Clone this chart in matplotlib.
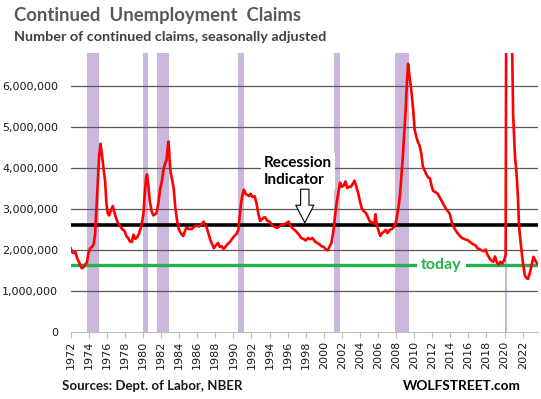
import matplotlib
matplotlib.use("Agg")
from matplotlib import pyplot as plt
from matplotlib.ticker import FuncFormatter

# continued claims (fractional year, millions)
years = [
    1972.0, 1972.15, 1972.35, 1972.5, 1972.7, 1972.9, 1973.1, 1973.25, 1973.45, 1973.65,
    1973.8, 1973.95, 1974.15, 1974.35, 1974.55, 1974.7, 1974.85, 1975.0, 1975.15, 1975.3,
    1975.45, 1975.6, 1975.8, 1975.95, 1976.1, 1976.25, 1976.45, 1976.65, 1976.8, 1977.0,
    1977.25, 1977.5, 1977.75, 1977.95, 1978.15, 1978.35, 1978.55, 1978.75, 1978.95, 1979.15,
    1979.35, 1979.55, 1979.75, 1979.9, 1980.05, 1980.2, 1980.35, 1980.45, 1980.6, 1980.75,
    1980.95, 1981.15, 1981.35, 1981.5, 1981.7, 1981.9, 1982.1, 1982.25, 1982.45, 1982.6,
    1982.75, 1982.82, 1982.95, 1983.05, 1983.2, 1983.4, 1983.55, 1983.75, 1983.95, 1984.1,
    1984.3, 1984.45, 1984.65, 1984.8, 1985.1, 1985.4, 1985.7, 1985.95, 1986.2, 1986.45,
    1986.7, 1986.9, 1987.05, 1987.25, 1987.45, 1987.65, 1987.85, 1988.05, 1988.3, 1988.5,
    1988.7, 1988.9, 1989.1, 1989.35, 1989.6, 1989.85, 1990.1, 1990.35, 1990.55, 1990.7,
    1990.85, 1991.0, 1991.15, 1991.35, 1991.55, 1991.75, 1991.9, 1992.1, 1992.35, 1992.55,
    1992.75, 1992.95, 1993.15, 1993.35, 1993.55, 1993.75, 1994.0, 1994.25, 1994.5, 1994.8,
    1995.1, 1995.35, 1995.6, 1995.85, 1996.1, 1996.3, 1996.5, 1996.75, 1997.0, 1997.25,
    1997.5, 1997.75, 1998.0, 1998.25, 1998.5, 1998.75, 1999.0, 1999.25, 1999.5, 1999.75,
    2000.0, 2000.25, 2000.45, 2000.65, 2000.85, 2001.05, 2001.25, 2001.45, 2001.65, 2001.8,
    2002.0, 2002.2, 2002.4, 2002.6, 2002.8, 2003.0, 2003.2, 2003.4, 2003.6, 2003.8,
    2004.0, 2004.2, 2004.45, 2004.7, 2004.9, 2005.1, 2005.35, 2005.6, 2005.72, 2005.85,
    2006.05, 2006.25, 2006.45, 2006.65, 2006.85, 2007.05, 2007.3, 2007.55, 2007.8, 2008.0,
    2008.15, 2008.3, 2008.45, 2008.6, 2008.75, 2008.9, 2009.05, 2009.2, 2009.33, 2009.45,
    2009.6, 2009.75, 2009.9, 2010.05, 2010.2, 2010.4, 2010.6, 2010.8, 2010.95, 2011.15,
    2011.35, 2011.55, 2011.75, 2011.95, 2012.1, 2012.35, 2012.6, 2012.85, 2013.05, 2013.3,
    2013.5, 2013.75, 2013.95, 2014.15, 2014.35, 2014.55, 2014.8, 2015.05, 2015.3, 2015.6,
    2015.9, 2016.2, 2016.5, 2016.8, 2017.0, 2017.2, 2017.45, 2017.7, 2017.9, 2018.1,
    2018.35, 2018.55, 2018.75, 2018.95, 2019.15, 2019.35, 2019.55, 2019.75, 2019.95, 2020.12,
    2020.28, 2020.38, 2020.55, 2020.7, 2020.95, 2021.15, 2021.35, 2021.5, 2021.6, 2021.8,
    2022.0, 2022.25, 2022.45, 2022.6, 2022.8, 2022.95, 2023.2, 2023.4, 2023.6,
]
claims_m = [
    2.05, 1.95, 1.93, 1.97, 1.82, 1.72, 1.62, 1.56, 1.60, 1.67,
    1.70, 1.92, 2.05, 2.08, 2.15, 2.40, 3.05, 3.70, 4.30, 4.60,
    4.35, 4.05, 3.70, 3.15, 2.90, 2.85, 2.98, 3.08, 2.95, 2.80,
    2.65, 2.58, 2.50, 2.48, 2.35, 2.30, 2.22, 2.20, 2.38, 2.28,
    2.32, 2.40, 2.55, 2.70, 2.90, 3.40, 3.80, 3.85, 3.55, 3.20,
    2.95, 2.85, 2.88, 2.92, 3.15, 3.50, 3.70, 3.95, 4.12, 4.20,
    4.55, 4.65, 4.20, 3.90, 3.75, 3.50, 3.10, 2.75, 2.52, 2.45,
    2.38, 2.35, 2.48, 2.55, 2.52, 2.52, 2.58, 2.60, 2.58, 2.62,
    2.70, 2.62, 2.55, 2.40, 2.25, 2.15, 2.05, 2.12, 2.18, 2.08,
    2.10, 2.03, 2.08, 2.15, 2.20, 2.28, 2.35, 2.40, 2.50, 2.85,
    3.15, 3.35, 3.48, 3.38, 3.35, 3.32, 3.38, 3.30, 3.32, 3.15,
    2.90, 2.72, 2.75, 2.80, 2.80, 2.72, 2.70, 2.62, 2.58, 2.55,
    2.58, 2.63, 2.62, 2.66, 2.70, 2.60, 2.55, 2.50, 2.45, 2.38,
    2.30, 2.28, 2.24, 2.30, 2.27, 2.30, 2.22, 2.18, 2.15, 2.10,
    2.08, 2.02, 2.00, 2.10, 2.18, 2.45, 2.85, 3.20, 3.45, 3.65,
    3.55, 3.58, 3.68, 3.52, 3.55, 3.55, 3.62, 3.70, 3.55, 3.40,
    3.20, 3.02, 2.95, 2.90, 2.80, 2.70, 2.68, 2.65, 2.88, 2.65,
    2.48, 2.35, 2.42, 2.45, 2.50, 2.42, 2.50, 2.52, 2.58, 2.70,
    2.90, 3.10, 3.40, 3.85, 4.30, 4.85, 5.40, 6.10, 6.55, 6.30,
    6.05, 5.75, 5.40, 4.95, 4.80, 4.65, 4.55, 4.35, 4.05, 3.95,
    3.85, 3.78, 3.75, 3.55, 3.45, 3.42, 3.38, 3.28, 3.20, 3.10,
    3.02, 2.95, 2.88, 2.70, 2.58, 2.50, 2.42, 2.35, 2.30, 2.27,
    2.25, 2.20, 2.15, 2.12, 2.05, 2.03, 2.00, 1.98, 2.02, 1.90,
    1.80, 1.75, 1.72, 1.85, 1.70, 1.65, 1.72, 1.68, 1.75, 1.90,
    17.0, 22.8, 15.5, 9.0, 5.3, 4.3, 3.8, 3.2, 2.6, 2.15,
    1.75, 1.38, 1.32, 1.30, 1.45, 1.60, 1.84, 1.75, 1.68,
]

# NBER recessions
rec_start = [1973.83, 1980.0, 1981.5, 1990.5, 2001.17, 2007.92, 2020.08]
rec_end = [1975.17, 1980.5, 1982.83, 1991.17, 2001.83, 2009.42, 2020.3]

recession_level = 2_610_000
today_level = 1_630_000

y_ticks = [0, 1_000_000, 2_000_000, 3_000_000, 4_000_000, 5_000_000, 6_000_000]
x_ticks = list(range(1972, 2023, 2))

RED = "#ff0000"
GREEN = "#22b14c"
PURPLE = "#cbb6dc"


def main():
    fig = plt.figure(figsize=(5.41, 3.99), dpi=100)
    ax = fig.add_axes([70.7 / 541, 66.7 / 399, (538 - 70.7) / 541, (332.3 - 52.7) / 399])

    for s, e in zip(rec_start, rec_end):
        ax.axvspan(s, e, color=PURPLE, lw=0, zorder=0)

    for v in y_ticks[1:]:
        ax.axhline(v, color="#595959", lw=0.9, zorder=1)

    ax.axhline(recession_level, color="black", lw=2.6, zorder=2)
    ax.axhline(today_level, color=GREEN, lw=2.4, zorder=2)

    ax.plot(years, [c * 1e6 for c in claims_m], color=RED, lw=1.9, zorder=4)

    ax.text(1993.4, 3.93e6, "Recession\nIndicator", ha="left", va="center",
            fontsize=11, fontweight="bold", family="Lato", linespacing=1.25,
            bbox=dict(boxstyle="square,pad=0.2", fc="white", ec="none"), zorder=3)
    ax.annotate("", xy=(1997.9, 2.67e6), xytext=(1997.9, 3.49e6),
                arrowprops=dict(arrowstyle="simple,head_length=1.27,head_width=1.3,tail_width=0.6",
                                fc="white", ec="black", lw=0.8, shrinkA=0, shrinkB=0),
                zorder=5)
    ax.text(2013.0, today_level, "today", ha="center", va="center", color=GREEN,
            fontsize=11.5, fontweight="bold", family="Lato",
            bbox=dict(boxstyle="square,pad=0.25", fc="white", ec="none"), zorder=3)

    ax.set_xlim(1972, 2023.7)
    ax.set_ylim(0, 6.82e6)
    ax.set_yticks(y_ticks)
    ax.yaxis.set_major_formatter(FuncFormatter(lambda v, p: f"{int(v):,}"))
    ax.set_xticks(x_ticks)
    ax.set_xticklabels([str(y) for y in x_ticks], rotation=90)
    ax.tick_params(axis="y", length=0, pad=9, labelsize=8, labelcolor="#1a1a1a")
    ax.tick_params(axis="x", length=4, width=0.8, color="#bfbfbf", pad=2,
                   labelsize=8, labelcolor="#1a1a1a")
    for side in ["left", "right", "top"]:
        ax.spines[side].set_visible(False)
    ax.spines["bottom"].set_color("#bfbfbf")

    fig.text(14 / 541, 1 - 20.7 / 399, "Continued  Unemployment  Claims", fontsize=13.3,
             fontweight="bold", family="Lato", color="#595959", va="baseline")
    fig.text(14 / 541, 1 - 40.7 / 399, "Number of continued claims, seasonally adjusted",
             fontsize=10.4, fontweight="bold", family="Lato", color="#404040", va="baseline")
    fig.text(62 / 541, 9 / 399, "Sources: Dept. of Labor, NBER", fontsize=9.5,
             fontweight="bold", family="Lato", color="#1a1a1a", va="baseline")
    fig.text(521 / 541, 9 / 399, "WOLFSTREET.com", fontsize=9.8, fontweight="bold",
             family="Lato", color="black", va="baseline", ha="right")

    fig.savefig("out.png", dpi=100)


if __name__ == "__main__":
    main()
